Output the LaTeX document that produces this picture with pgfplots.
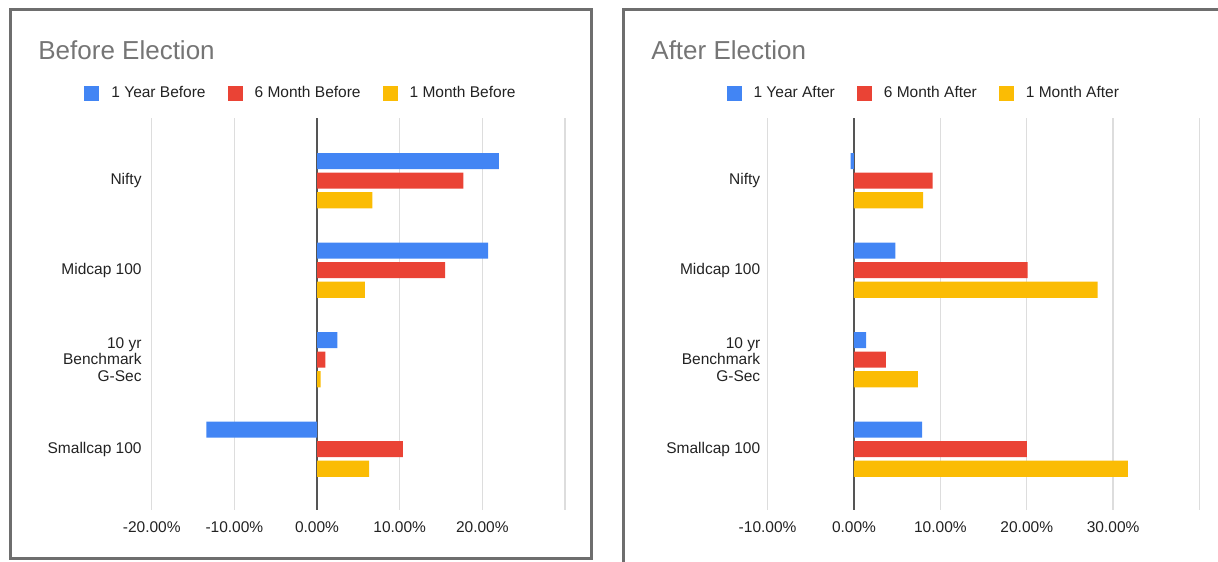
\documentclass[border=0pt]{standalone}
\usepackage{fontspec}
\setmainfont{Liberation Sans}
\usepackage{pgfplots}
\pgfplotsset{compat=1.18}
\definecolor{gblue}{HTML}{4285F4}
\definecolor{gred}{HTML}{EA4335}
\definecolor{gyellow}{HTML}{FBBC04}
\definecolor{gridgray}{HTML}{DDDDDD}
\definecolor{zerogray}{HTML}{555555}
\definecolor{textgray}{HTML}{222222}
\definecolor{titlegray}{HTML}{757575}
\definecolor{framegray}{HTML}{6E6E6E}
\pgfplotsset{
  panel/.style={
    scale only axis, xbar, y dir=reverse,
    height=196pt,
    ymin=-0.7, ymax=3.68,
    axis line style={draw=none},
    major tick length=0pt, tick style={draw=none},
    ytick={0,1,2,3},
    yticklabels={Nifty,Midcap 100,{10 yr\\Benchmark\\G-Sec},Smallcap 100},
    yticklabel style={align=right, anchor=east, inner sep=0pt, font=\fontsize{7.75}{8.3}\selectfont, text=textgray},
    xmajorgrids, grid style={color=gridgray, line width=0.7pt},
    xticklabel style={anchor=base, inner sep=0pt, yshift=-11pt, font=\fontsize{7.75}{9}\selectfont, text=textgray},
    /pgf/number format/assume math mode=true,
    extra x ticks={0}, extra x tick labels={0.00\%},
    extra x tick style={grid style={color=zerogray, line width=0.55pt}},
    bar width=0.179,
    legend columns=3,
    legend image code/.code={\fill[##1] (0pt,-3.75pt) rectangle (7.5pt,3.75pt);},
    legend style={draw=none, fill=none, inner sep=0pt, outer sep=0pt,
      font=\fontsize{7.75}{9}\selectfont, text=textgray,
      nodes={inner sep=0pt, anchor=west},
      /tikz/every odd column/.append style={column sep=6pt},
      /tikz/every even column/.append style={column sep=11pt},
      anchor=west},
    clip=false,
  },
  b1/.style={fill=gblue, draw=none, bar shift=-0.219},
  b2/.style={fill=gred, draw=none, bar shift=0},
  b3/.style={fill=gyellow, draw=none, bar shift=0.219},
}
\begin{document}
\begin{tikzpicture}
\path[use as bounding box] (0pt,0pt) rectangle (609pt,-280.5pt);
\draw[framegray, line width=1.5pt] (5pt,-5pt) rectangle (295.5pt,-279pt);
\draw[framegray, line width=1.5pt] (311.8pt,-5pt) rectangle (625pt,-290pt);
\node[anchor=base west, inner sep=0pt, font=\fontsize{13}{15}\selectfont, text=titlegray] at (19pt,-30pt) {Before Election};
\node[anchor=base west, inner sep=0pt, font=\fontsize{13}{15}\selectfont, text=titlegray] at (325.5pt,-30pt) {After Election};

\begin{axis}[panel, at={(75.875pt,-59pt)}, anchor=north west, width=206.6pt,
  xmin=-20, xmax=30,
  xtick={-20,-10,10,20,30}, xticklabels={-20.00\%,-10.00\%,10.00\%,20.00\%,{}},
  yticklabel style={xshift=-4.9pt},
  legend style={at={(axis description cs:-0.163,1.0625)}}]
\addplot[b1] coordinates {(22.0,0) (20.7,1) (2.45,2) (-13.4,3)};
\addplot[b2] coordinates {(17.7,0) (15.5,1) (1.0,2) (10.4,3)};
\addplot[b3] coordinates {(6.7,0) (5.8,1) (0.45,2) (6.3,3)};
\legend{1 Year Before,6 Month Before,1 Month Before}
\end{axis}

\begin{axis}[panel, at={(383.8pt,-59pt)}, anchor=north west, width=215.95pt,
  xmin=-10, xmax=40,
  xtick={-10,10,20,30,40}, xticklabels={-10.00\%,10.00\%,20.00\%,30.00\%,{}},
  yticklabel style={xshift=-3.5pt},
  legend style={at={(axis description cs:-0.095,1.0625)}}]
\addplot[b1] coordinates {(-0.4,0) (4.8,1) (1.4,2) (7.9,3)};
\addplot[b2] coordinates {(9.1,0) (20.1,1) (3.7,2) (20.0,3)};
\addplot[b3] coordinates {(8.0,0) (28.2,1) (7.4,2) (31.7,3)};
\legend{1 Year After,6 Month After,1 Month After}
\end{axis}
\end{tikzpicture}
\end{document}
